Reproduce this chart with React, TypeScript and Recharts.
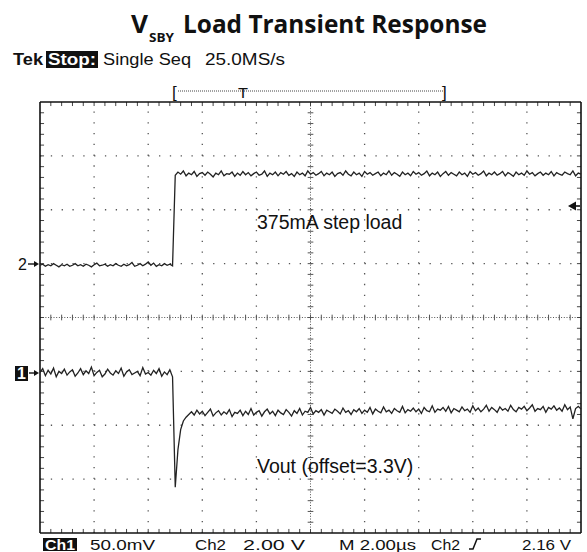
import React from "react";
import { LineChart, Line, XAxis, YAxis, ReferenceLine } from "recharts";

// screen is 10 x 8 divisions, one sample every 0.05 division
const sampleStep = 0.05;

// Ch1 (Vout, 50mV/div) in divisions, before and after the load step
const ch1Before = [
  2.98, 3.05, 2.92, 3.02, 2.95, 3.06, 2.9, 3.0, 2.96, 3.04,
  2.93, 2.99, 3.03, 2.91, 2.97, 3.05, 2.94, 3.01, 2.96, 3.08,
  2.92, 2.98, 3.02, 2.9, 2.95, 3.04, 2.97, 2.93, 3.01, 2.96,
  3.06, 2.91, 2.99, 3.03, 2.94, 2.97, 3.0, 2.92, 3.07, 2.95,
  2.98, 2.93, 3.02, 2.96, 3.05, 2.91, 2.99, 2.94, 3.03, 2.9,
];
const ch1After = [
  0.85, 1.55, 1.92, 2.08, 2.15, 2.2, 2.25, 2.19, 2.28, 2.21,
  2.26, 2.18, 2.24, 2.3, 2.17, 2.23, 2.27, 2.19, 2.25, 2.21,
  2.29, 2.16, 2.24, 2.22, 2.28, 2.18, 2.26, 2.2, 2.31, 2.19,
  2.24, 2.27, 2.17, 2.25, 2.3, 2.21, 2.26, 2.18, 2.28, 2.23,
  2.2, 2.29, 2.24, 2.17, 2.27, 2.22, 2.31, 2.19, 2.26, 2.24,
  2.33, 2.21, 2.27, 2.24, 2.29, 2.19, 2.28, 2.25, 2.22, 2.3,
  2.26, 2.21, 2.32, 2.24, 2.27, 2.2, 2.29, 2.25, 2.31, 2.22,
  2.28, 2.24, 2.33, 2.21, 2.3, 2.26, 2.23, 2.34, 2.25, 2.28,
  2.22, 2.31, 2.27, 2.24, 2.35, 2.23, 2.29, 2.26, 2.32, 2.25,
  2.3, 2.22, 2.33, 2.27, 2.25, 2.36, 2.24, 2.3, 2.28, 2.33,
  2.26, 2.35, 2.23, 2.31, 2.28, 2.25, 2.34, 2.27, 2.3, 2.24,
  2.36, 2.27, 2.32, 2.25, 2.3, 2.37, 2.26, 2.33, 2.29, 2.24,
  2.34, 2.28, 2.31, 2.26, 2.37, 2.29, 2.25, 2.33, 2.3, 2.35,
  2.27, 2.32, 2.38, 2.26, 2.31, 2.29, 2.35, 2.24, 2.33, 2.3,
  2.36, 2.28, 2.32, 2.26, 2.38, 2.29, 2.34, 2.12, 2.31, 2.35,
  2.3,
];

// Ch2 (load step, 2V/div) in divisions
const ch2Before = [
  4.97, 4.99, 4.95, 4.98, 4.96, 5.0, 4.97, 4.94, 4.98, 4.96,
  4.99, 4.95, 4.97, 5.0, 4.96, 4.98, 4.95, 4.99, 4.97, 4.94,
  4.98, 5.01, 4.96, 4.97, 4.99, 4.95, 4.98, 4.96, 5.0, 4.97,
  4.95, 4.99, 4.96, 4.98, 5.02, 4.95, 4.97, 5.0, 4.96, 4.99,
  5.03, 4.97, 5.01, 4.95, 4.98, 4.96, 5.0, 4.97, 4.99, 4.96,
];
const ch2After = [
  6.64, 6.7, 6.66, 6.72, 6.63, 6.68, 6.65, 6.71, 6.62, 6.67,
  6.69, 6.64, 6.7, 6.66, 6.61, 6.68, 6.65, 6.72, 6.63, 6.67,
  6.66, 6.7, 6.62, 6.68, 6.64, 6.71, 6.65, 6.69, 6.63, 6.67,
  6.7, 6.64, 6.66, 6.72, 6.62, 6.68, 6.65, 6.7, 6.63, 6.69,
  6.66, 6.71, 6.64, 6.67, 6.62, 6.7, 6.65, 6.68, 6.63, 6.72,
  6.66, 6.69, 6.64, 6.67, 6.71, 6.63, 6.68, 6.65, 6.7, 6.62,
  6.67, 6.69, 6.64, 6.72, 6.66, 6.63, 6.7, 6.65, 6.68, 6.62,
  6.71, 6.66, 6.69, 6.64, 6.67, 6.7, 6.63, 6.68, 6.65, 6.72,
  6.64, 6.69, 6.66, 6.62, 6.7, 6.65, 6.68, 6.63, 6.71, 6.66,
  6.69, 6.64, 6.67, 6.72, 6.63, 6.68, 6.65, 6.7, 6.62, 6.67,
  6.71, 6.64, 6.69, 6.66, 6.63, 6.7, 6.65, 6.68, 6.62, 6.71,
  6.66, 6.69, 6.64, 6.67, 6.72, 6.63, 6.68, 6.65, 6.7, 6.64,
  6.67, 6.71, 6.63, 6.69, 6.66, 6.62, 6.7, 6.65, 6.68, 6.64,
  6.72, 6.66, 6.69, 6.63, 6.67, 6.7, 6.64, 6.68, 6.65, 6.71,
  6.63, 6.69, 6.66, 6.64, 6.7, 6.67, 6.65, 6.72, 6.63, 6.68,
  6.66,
];

const ch1 = [...ch1Before, ...ch1After];
const ch2 = [...ch2Before, ...ch2After];
const data = ch1.map((v, i) => ({
  t: +(i * sampleStep).toFixed(2),
  ch1: v,
  ch2: ch2[i],
}));

// graticule
const gridX = [1, 2, 3, 4, 6, 7, 8, 9];
const gridY = [1, 2, 3, 5, 6, 7];
const minorX = Array.from({ length: 49 }, (_, i) => +((i + 1) * 0.2).toFixed(1));
const minorY = Array.from({ length: 39 }, (_, i) => +((i + 1) * 0.2).toFixed(1));
const tickX = 0.075; // ~4px in x divisions
const tickY = 0.075; // ~4px in y divisions

const scopeFont = "'Liberation Sans', Arial, sans-serif";
const titleFont = "'Open Sans', 'Noto Sans', sans-serif";
const gridColor = "#555";

export default function App() {
  return (
    <div style={{ position: "absolute", left: 0, top: 0, width: 587, height: 552, background: "#fff" }}>
      <LineChart
        width={587}
        height={552}
        data={data}
        margin={{ top: 102, right: 6, bottom: 19, left: 40 }}
      >
        <XAxis dataKey="t" type="number" domain={[0, 10]} hide />
        <YAxis type="number" domain={[0, 8]} hide />

        {gridX.map((x) => (
          <ReferenceLine key={"gx" + x} x={x} stroke={gridColor} strokeWidth={1.3} strokeDasharray="1.3 9.475" />
        ))}
        {gridY.map((y) => (
          <ReferenceLine key={"gy" + y} y={y} stroke={gridColor} strokeWidth={1.3} strokeDasharray="1.3 9.52" />
        ))}
        <ReferenceLine x={5} stroke={gridColor} strokeDasharray="1 1.7" />
        <ReferenceLine y={4} stroke={gridColor} strokeDasharray="1 1.7" />
        {minorX.map((t) => (
          <ReferenceLine
            key={"cx" + t}
            segment={[{ x: t, y: 4 - tickY * 0.7 }, { x: t, y: 4 + tickY * 0.7 }]}
            stroke={gridColor}
          />
        ))}
        {minorY.map((v) => (
          <ReferenceLine
            key={"cy" + v}
            segment={[{ x: 5 - tickX * 0.7, y: v }, { x: 5 + tickX * 0.7, y: v }]}
            stroke={gridColor}
          />
        ))}
        {/* edge ticks */}
        {minorX.map((t) => (
          <ReferenceLine key={"bx" + t} segment={[{ x: t, y: 0 }, { x: t, y: tickY }]} stroke="#444" />
        ))}
        {minorX.map((t) => (
          <ReferenceLine key={"tx" + t} segment={[{ x: t, y: 8 }, { x: t, y: 8 - tickY }]} stroke="#444" />
        ))}
        {minorY.map((v) => (
          <ReferenceLine key={"ly" + v} segment={[{ x: 0, y: v }, { x: tickX, y: v }]} stroke="#444" />
        ))}
        {minorY.map((v) => (
          <ReferenceLine key={"ry" + v} segment={[{ x: 10, y: v }, { x: 10 - tickX, y: v }]} stroke="#444" />
        ))}
        {/* frame */}
        <ReferenceLine x={0} stroke="#111" strokeWidth={1.6} ifOverflow="visible" />
        <ReferenceLine x={10} stroke="#111" strokeWidth={1.6} ifOverflow="visible" />
        <ReferenceLine y={0} stroke="#111" strokeWidth={1.6} ifOverflow="visible" />
        <ReferenceLine y={8} stroke="#111" strokeWidth={1.6} ifOverflow="visible" />

        <Line
          dataKey="ch2"
          type="linear"
          stroke="#222"
          strokeWidth={1.3}
          dot={false}
          activeDot={false}
          isAnimationActive={false}
        />
        <Line
          dataKey="ch1"
          type="linear"
          stroke="#222"
          strokeWidth={1.3}
          dot={false}
          activeDot={false}
          isAnimationActive={false}
        />
      </LineChart>

      <svg
        width={587}
        height={552}
        style={{ position: "absolute", left: 0, top: 0, pointerEvents: "none" }}
      >
        {/* title */}
        <g fontFamily={titleFont} fontWeight={700} fill="#111">
          <text x={131} y={33} fontSize={25} textLength={17} lengthAdjust="spacingAndGlyphs">V</text>
          <text x={149} y={42} fontSize={12} textLength={25} lengthAdjust="spacingAndGlyphs">SBY</text>
          <text x={183} y={33} fontSize={25} textLength={304} lengthAdjust="spacingAndGlyphs">
            Load Transient Response
          </text>
        </g>

        {/* scope status line */}
        <g fontFamily={scopeFont} fontSize={16} fill="#111">
          <text x={13} y={65} fontWeight={700} textLength={30} lengthAdjust="spacingAndGlyphs">Tek</text>
          <rect x={46} y={51} width={52} height={17} fill="#111" />
          <text x={48} y={65} fill="#fff" fontWeight={700} textLength={48} lengthAdjust="spacingAndGlyphs">Stop:</text>
          <text x={103} y={65} textLength={88} lengthAdjust="spacingAndGlyphs">Single Seq</text>
          <text x={205} y={65} textLength={80} lengthAdjust="spacingAndGlyphs">25.0MS/s</text>
          <text x={172} y={98} fontSize={17}>[</text>
          <text x={442} y={98} fontSize={17}>]</text>
          <line x1={178} y1={91} x2={443} y2={91} stroke="#444" strokeDasharray="1 1" />
          <text x={238} y={98} fontSize={15} textLength={10} lengthAdjust="spacingAndGlyphs">T</text>
        </g>

        {/* channel markers */}
        <g fontFamily={scopeFont} fontSize={16} fill="#111">
          <text x={18} y={270}>2</text>
          <line x1={28} y1={264} x2={36} y2={264} stroke="#111" strokeWidth={1.4} />
          <polygon points="39,264 34,261 34,267" fill="#111" />
          <rect x={15} y={366} width={13} height={15} fill="#111" />
          <text x={17} y={379} fill="#fff" fontWeight={700}>1</text>
          <line x1={29} y1={373} x2={36} y2={373} stroke="#111" strokeWidth={1.4} />
          <polygon points="39,373 34,370 34,376" fill="#111" />
          {/* trigger level */}
          <polygon points="568,206 576,201.5 576,210.5" fill="#111" />
          <line x1={575} y1={206} x2={580} y2={206} stroke="#111" strokeWidth={1.6} />
        </g>

        {/* annotations */}
        <g fontFamily={scopeFont} fontSize={19.5} fill="#111">
          <text x={257} y={229}>375mA step load</text>
          <text x={257} y={473}>Vout (offset=3.3V)</text>
        </g>

        {/* scale readout */}
        <g fontFamily={scopeFont} fontSize={15} fill="#111">
          <rect x={43} y={538} width={34} height={13} fill="#111" />
          <text x={45} y={550} fill="#fff" fontWeight={700} textLength={30} lengthAdjust="spacingAndGlyphs">Ch1</text>
          <text x={90} y={550} textLength={65} lengthAdjust="spacingAndGlyphs">50.0mV</text>
          <text x={195} y={550} textLength={31} lengthAdjust="spacingAndGlyphs">Ch2</text>
          <text x={243} y={550} textLength={62} lengthAdjust="spacingAndGlyphs">2.00 V</text>
          <text x={339} y={550} textLength={77} lengthAdjust="spacingAndGlyphs">M 2.00µs</text>
          <text x={431} y={550} textLength={29} lengthAdjust="spacingAndGlyphs">Ch2</text>
          <path d="M469,549 L473,549 L477,539 L481,539" fill="none" stroke="#111" strokeWidth={1.5} />
          <text x={522} y={550} textLength={49} lengthAdjust="spacingAndGlyphs">2.16 V</text>
        </g>
      </svg>
    </div>
  );
}
